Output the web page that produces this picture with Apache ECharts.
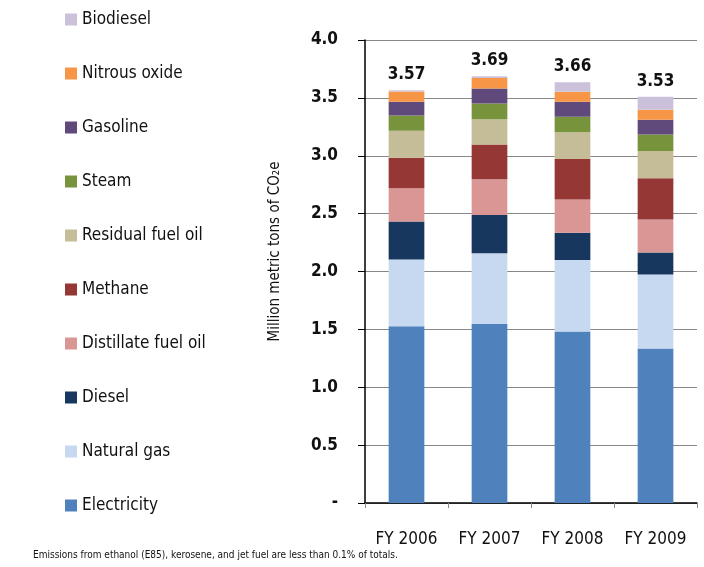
<!DOCTYPE html>
<html>
<head>
<meta charset="utf-8">
<script src="https://cdn.jsdelivr.net/npm/echarts@6/dist/echarts.min.js"></script>
<style>
  html, body { margin: 0; padding: 0; background: #fff; }
  #chart { width: 704px; height: 567px; }
</style>
</head>
<body>
<div id="chart"></div>
<script>
const years = ["FY 2006", "FY 2007", "FY 2008", "FY 2009"];
const totals = [3.57, 3.69, 3.66, 3.53];

// stacked from bottom to top
const electricity = [1.527, 1.547, 1.481, 1.334];
const naturalGas = [0.577, 0.611, 0.619, 0.640];
const diesel = [0.328, 0.331, 0.234, 0.190];
const distillateFuelOil = [0.288, 0.309, 0.288, 0.285];
const methane = [0.262, 0.300, 0.349, 0.357];
const residualFuelOil = [0.233, 0.218, 0.233, 0.234];
const steam = [0.133, 0.136, 0.132, 0.144];
const gasoline = [0.118, 0.130, 0.130, 0.126];
const nitrousOxide = [0.090, 0.089, 0.086, 0.087];
const biodiesel = [0.010, 0.015, 0.084, 0.112];

const yTicks = [0, 0.5, 1.0, 1.5, 2.0, 2.5, 3.0, 3.5, 4.0];

const font = '"Liberation Sans Narrow", "DejaVu Sans Condensed", sans-serif';

const seriesDefs = [
  {name: "Electricity", data: electricity, color: "#4F81BD"},
  {name: "Natural gas", data: naturalGas, color: "#C6D9F0"},
  {name: "Diesel", data: diesel, color: "#17375E"},
  {name: "Distillate fuel oil", data: distillateFuelOil, color: "#D99694"},
  {name: "Methane", data: methane, color: "#953735"},
  {name: "Residual fuel oil", data: residualFuelOil, color: "#C4BD97"},
  {name: "Steam", data: steam, color: "#77933C"},
  {name: "Gasoline", data: gasoline, color: "#604A7B"},
  {name: "Nitrous oxide", data: nitrousOxide, color: "#F79646"},
  {name: "Biodiesel", data: biodiesel, color: "#CCC1DA"}
];

const chart = echarts.init(document.getElementById("chart"));

const series = seriesDefs.map((s, i) => ({
  name: s.name,
  type: "bar",
  stack: "total",
  barWidth: "43%",
  data: s.data,
  itemStyle: {color: s.color},
  // total label sits on the top segment
  label: i === seriesDefs.length - 1 ? {
    show: true,
    position: "top",
    distance: 7,
    fontFamily: font,
    fontSize: 17,
    fontWeight: "bold",
    color: "#111",
    formatter: (p) => totals[p.dataIndex].toFixed(2)
  } : {show: false}
}));

chart.setOption({
  animation: false,
  backgroundColor: "#fff",
  textStyle: {fontFamily: font},
  legend: {
    orient: "vertical",
    left: 60,
    top: 6,
    itemWidth: 12,
    itemHeight: 12,
    itemGap: 37,
    icon: "rect",
    data: seriesDefs.map(s => s.name).reverse(),
    textStyle: {fontFamily: font, fontSize: 17, color: "#111"}
  },
  title: {
    text: "Emissions from ethanol (E85), kerosene, and jet fuel are less than 0.1% of totals.",
    left: 28,
    bottom: 2,
    textStyle: {fontFamily: font, fontSize: 10, fontWeight: "normal", color: "#111"}
  },
  grid: {left: 365, right: 7, top: 40, bottom: 64},
  xAxis: {
    type: "category",
    data: years,
    axisLine: {lineStyle: {color: "#000", width: 1.5}},
    axisTick: {show: true, length: 5, lineStyle: {color: "#888"}},
    axisLabel: {margin: 28, fontFamily: font, fontSize: 17, color: "#111"}
  },
  yAxis: {
    type: "value",
    min: 0,
    max: 4,
    interval: 0.5,
    name: "Million metric tons of CO₂e",
    nameLocation: "middle",
    nameGap: 82,
    nameTextStyle: {fontFamily: font, fontSize: 15, color: "#111", padding: [0, 0, 0, 40]},
    axisLine: {show: true, lineStyle: {color: "#000", width: 1.5}},
    axisTick: {show: true, length: 7, lineStyle: {color: "#000"}},
    splitLine: {show: true, lineStyle: {color: "#888", width: 1}},
    axisLabel: {
      margin: 27,
      fontFamily: font,
      fontSize: 17,
      fontWeight: "bold",
      color: "#111",
      formatter: (v) => v === yTicks[0] ? "-" : v.toFixed(1)
    }
  },
  series: series
});
</script>
</body>
</html>
